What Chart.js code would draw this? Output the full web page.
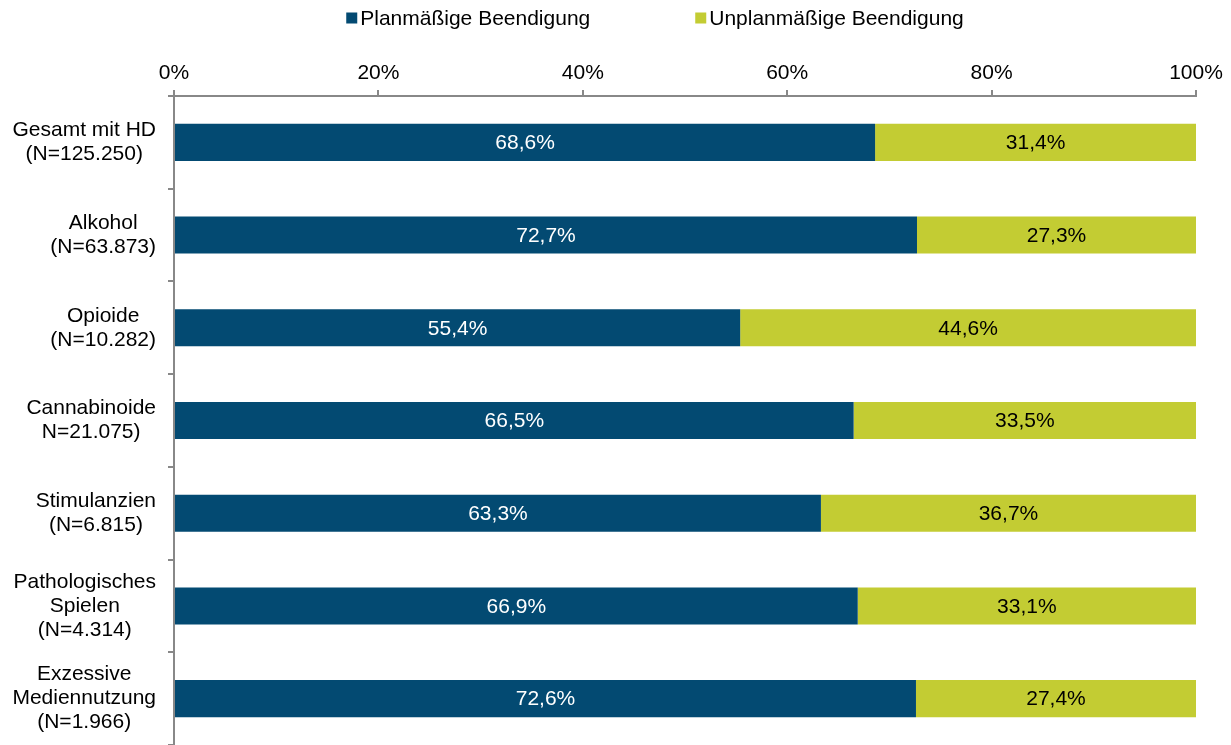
<!DOCTYPE html>
<html>
<head>
<meta charset="utf-8">
<script src="https://cdn.jsdelivr.net/npm/chart.js@4.4.1/dist/chart.umd.min.js"></script>
<style>
  html, body { margin: 0; padding: 0; background: #fff; }
  #wrap { width: 1231px; height: 745px; }
</style>
</head>
<body>
<div id="wrap"><canvas id="chartCanvas" width="1231" height="745"></canvas></div>
<script>
const categories = [
  ["Gesamt mit HD", "(N=125.250)"],
  ["Alkohol", "(N=63.873)"],
  ["Opioide", "(N=10.282)"],
  ["Cannabinoide", "N=21.075)"],
  ["Stimulanzien", "(N=6.815)"],
  ["Pathologisches", "Spielen", "(N=4.314)"],
  ["Exzessive", "Mediennutzung", "(N=1.966)"]
];
const seriesNames = ["Planmäßige Beendigung", "Unplanmäßige Beendigung"];
const planned = [68.6, 72.7, 55.4, 66.5, 63.3, 66.9, 72.6];
const unplanned = [31.4, 27.3, 44.6, 33.5, 36.7, 33.1, 27.4];
const xTicks = [0, 20, 40, 60, 80, 100];

const FONT = "'Liberation Sans', Arial, sans-serif";
const BLUE = "#034a72";
const GREEN = "#c3cc33";

// value labels in the middle of every bar segment
const valueLabels = {
  id: "valueLabels",
  afterDatasetsDraw(chart) {
    const ctx = chart.ctx;
    ctx.save();
    ctx.font = "21px " + FONT;
    ctx.textAlign = "center";
    ctx.textBaseline = "middle";
    chart.data.datasets.forEach((ds, i) => {
      const meta = chart.getDatasetMeta(i);
      meta.data.forEach((bar, j) => {
        const v = ds.data[j];
        ctx.fillStyle = i === 0 ? "#ffffff" : "#000000";
        ctx.fillText(v.toFixed(1).replace(".", ",") + "%", (bar.x + bar.base) / 2, bar.y + 1);
      });
    });
    ctx.restore();
  }
};

// category labels: block right aligned, lines centred inside the block
const categoryLabels = {
  id: "categoryLabels",
  afterDraw(chart) {
    const ctx = chart.ctx;
    const yScale = chart.scales.y;
    const right = chart.chartArea.left - 18;
    const lh = 24;
    ctx.save();
    ctx.font = "21px " + FONT;
    ctx.fillStyle = "#000";
    ctx.textAlign = "center";
    ctx.textBaseline = "middle";
    categories.forEach((lines, i) => {
      const w = Math.max(...lines.map(l => ctx.measureText(l).width));
      const cx = right - w / 2;
      const cy = yScale.getPixelForValue(i);
      lines.forEach((l, k) => {
        ctx.fillText(l, cx, cy + (k - (lines.length - 1) / 2) * lh);
      });
    });
    ctx.restore();
  }
};

// legend with square markers, spread like the original
const squareLegend = {
  id: "squareLegend",
  afterDraw(chart) {
    const ctx = chart.ctx;
    ctx.save();
    ctx.font = "21px " + FONT;
    ctx.textBaseline = "middle";
    ctx.textAlign = "left";
    const box = 11, gapText = 3, gapItem = 105, y = 18;
    const widths = seriesNames.map(n => box + gapText + ctx.measureText(n).width);
    const total = widths[0] + gapItem + widths[1];
    let x = 655 - total / 2;
    seriesNames.forEach((n, i) => {
      ctx.fillStyle = chart.data.datasets[i].backgroundColor;
      ctx.fillRect(x, y - box / 2, box, box);
      ctx.fillStyle = "#000";
      ctx.fillText(n, x + box + gapText, y + 1);
      x += widths[i] + gapItem;
    });
    ctx.restore();
  }
};

new Chart(document.getElementById("chartCanvas"), {
  type: "bar",
  data: {
    labels: categories,
    datasets: [
      { label: seriesNames[0], data: planned, backgroundColor: BLUE, borderWidth: 0 },
      { label: seriesNames[1], data: unplanned, backgroundColor: GREEN, borderWidth: 0 }
    ]
  },
  options: {
    indexAxis: "y",
    responsive: false,
    animation: false,
    layout: { padding: { top: 60, right: 35, bottom: 0, left: 0 } },
    datasets: { bar: { barPercentage: 0.4, categoryPercentage: 1 } },
    plugins: {
      legend: { display: false },
      tooltip: { enabled: false }
    },
    scales: {
      x: {
        position: "top",
        stacked: true,
        min: 0,
        max: 100,
        afterBuildTicks: s => { s.ticks = xTicks.map(v => ({ value: v })); },
        afterFit: s => { s.height = 36; },
        ticks: {
          callback: v => v + "%",
          font: { family: FONT, size: 21 },
          color: "#000",
          padding: 4,
          maxRotation: 0
        },
        grid: { drawOnChartArea: false, drawTicks: true, tickLength: 6, color: "#888", lineWidth: 2 },
        border: { display: true, color: "#888", width: 2 }
      },
      y: {
        stacked: true,
        afterFit: s => { s.width = 174; },
        ticks: { display: false },
        grid: { drawOnChartArea: false, drawTicks: true, tickLength: 6, offset: true, color: "#888", lineWidth: 2 },
        border: { display: true, color: "#888", width: 2 }
      }
    }
  },
  plugins: [valueLabels, categoryLabels, squareLegend]
});
</script>
</body>
</html>
